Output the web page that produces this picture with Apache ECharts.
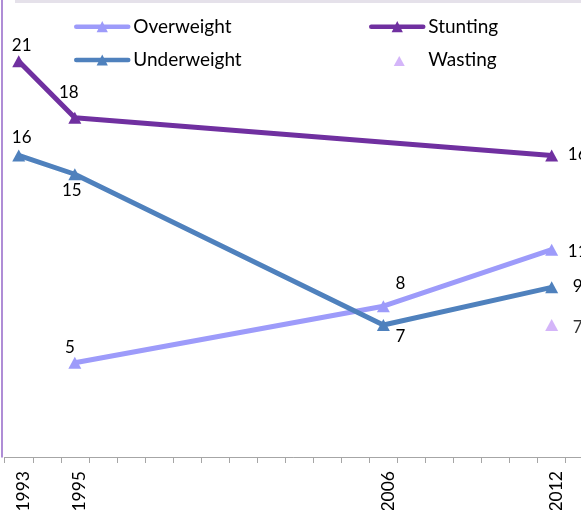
<!DOCTYPE html>
<html>
<head>
<meta charset="utf-8">
<script src="https://cdn.jsdelivr.net/npm/echarts@6/dist/echarts.min.js"></script>
<style>
  html, body { margin: 0; padding: 0; background: #ffffff; }
  #chart { width: 581px; height: 510px; }
</style>
</head>
<body>
<div id="chart"></div>
<script>
// Year categories along the x axis (one band per year)
const years = ['1993', '1994', '1995', '1996', '1997', '1998', '1999', '2000', '2001', '2002',
               '2003', '2004', '2005', '2006', '2007', '2008', '2009', '2010', '2011', '2012', '2013'];
// Years that carry a tick label
const labelledYears = ['1993', '1995', '2006', '2012'];
// Survey years and prevalence (%) per indicator
const surveyYears = ['1993', '1995', '2006', '2012'];
const overweight  = [null, 5, 8, 11];
const stunting    = [21, 18, null, 16];
const underweight = [16, 15, 7, 9];
const wasting     = [null, null, null, 7];

// Where each value label sits relative to its marker (px)
const labelOffsets = {
  Overweight:  { '1995': [-5, -15], '2006': [17, -23], '2012': [26, 2] },
  Stunting:    { '1993': [3, -16], '1995': [-6, -25], '2012': [26, -1] },
  Underweight: { '1993': [3, -18], '1995': [-3, 16], '2006': [17, 11.5], '2012': [26, -1] },
  Wasting:     { '2012': [26, 2] }
};

const FONT = 'Lato';

function points(name, values) {
  return surveyYears
    .map((yr, i) => values[i] == null ? null : {
      value: [yr, values[i]],
      label: { offset: (labelOffsets[name] && labelOffsets[name][yr]) || [0, 0] }
    })
    .filter(Boolean);
}

const valueLabel = {
  show: true,
  position: 'inside',
  formatter: p => String(p.value[1]),
  color: '#000000',
  fontSize: 17,
  fontFamily: FONT
};

function lineSeries(name, values, color) {
  return {
    name: name,
    type: 'line',
    data: points(name, values),
    symbol: 'triangle',
    symbolSize: [13, 12],
    lineStyle: { color: color, width: 5 },
    itemStyle: { color: color, borderWidth: 0 },
    label: valueLabel,
    emphasis: { disabled: true }
  };
}

const legendText = { fontSize: 19, fontFamily: FONT, color: '#000000', lineHeight: 20 };
const legendBase = {
  orient: 'vertical', top: 16.7, padding: 0,
  itemWidth: 52, itemHeight: 14, itemGap: 13.3,
  textStyle: legendText, selectedMode: false,
  lineStyle: { width: 4.5, cap: 'round' }
};
// Marker-only key: a small triangle centred in the same-width key box
const wastingIcon = 'path://M0,0M52,14M22.5,13L28,3L33.5,13Z';

const chart = echarts.init(document.getElementById('chart'));
chart.setOption({
  animation: false,
  backgroundColor: '#ffffff',
  graphic: [{
    type: 'rect',
    shape: { x: 15, y: 0, width: 566, height: 3 },
    style: { fill: '#e5e1ea' },
    silent: true
  }],
  legend: [
    Object.assign({}, legendBase, { data: ['Overweight', 'Underweight'], left: 74 }),
    Object.assign({}, legendBase, {
      data: ['Stunting', { name: 'Wasting', icon: wastingIcon }],
      left: 369
    })
  ],
  grid: {
    left: 4.7, top: -14.25, bottom: 53, width: 21 * 28.05,
    containLabel: false, outerBoundsMode: 'none'
  },
  xAxis: {
    type: 'category',
    data: years,
    boundaryGap: true,
    axisLine: { show: true, lineStyle: { color: '#a6a6a6', width: 1 } },
    axisTick: { show: true, interval: 0, length: 6, lineStyle: { color: '#a6a6a6', width: 1 } },
    axisLabel: {
      interval: (idx, val) => labelledYears.indexOf(val) >= 0,
      rotate: 90,
      margin: 14,
      formatter: v => '{y|' + v + '}',
      rich: {
        y: {
          padding: [9, 0, 0, 0],
          fontSize: 17.5,
          fontFamily: FONT,
          color: '#000000'
        }
      }
    },
    splitLine: { show: false }
  },
  yAxis: {
    type: 'value',
    min: 0,
    max: 25,
    offset: 2.5,
    axisLine: { show: true, lineStyle: { color: '#9467c8', width: 1.5 } },
    axisTick: { show: false },
    axisLabel: { show: false },
    splitLine: { show: false }
  },
  series: [
    lineSeries('Overweight', overweight, '#9d9bfa'),
    lineSeries('Stunting', stunting, '#7030a0'),
    lineSeries('Underweight', underweight, '#4f81bd'),
    {
      name: 'Wasting',
      type: 'scatter',
      data: points('Wasting', wasting),
      symbol: 'triangle',
      symbolSize: [13, 12],
      itemStyle: { color: '#c9a2f8' },
      label: valueLabel,
      emphasis: { disabled: true }
    }
  ]
});
</script>
</body>
</html>
